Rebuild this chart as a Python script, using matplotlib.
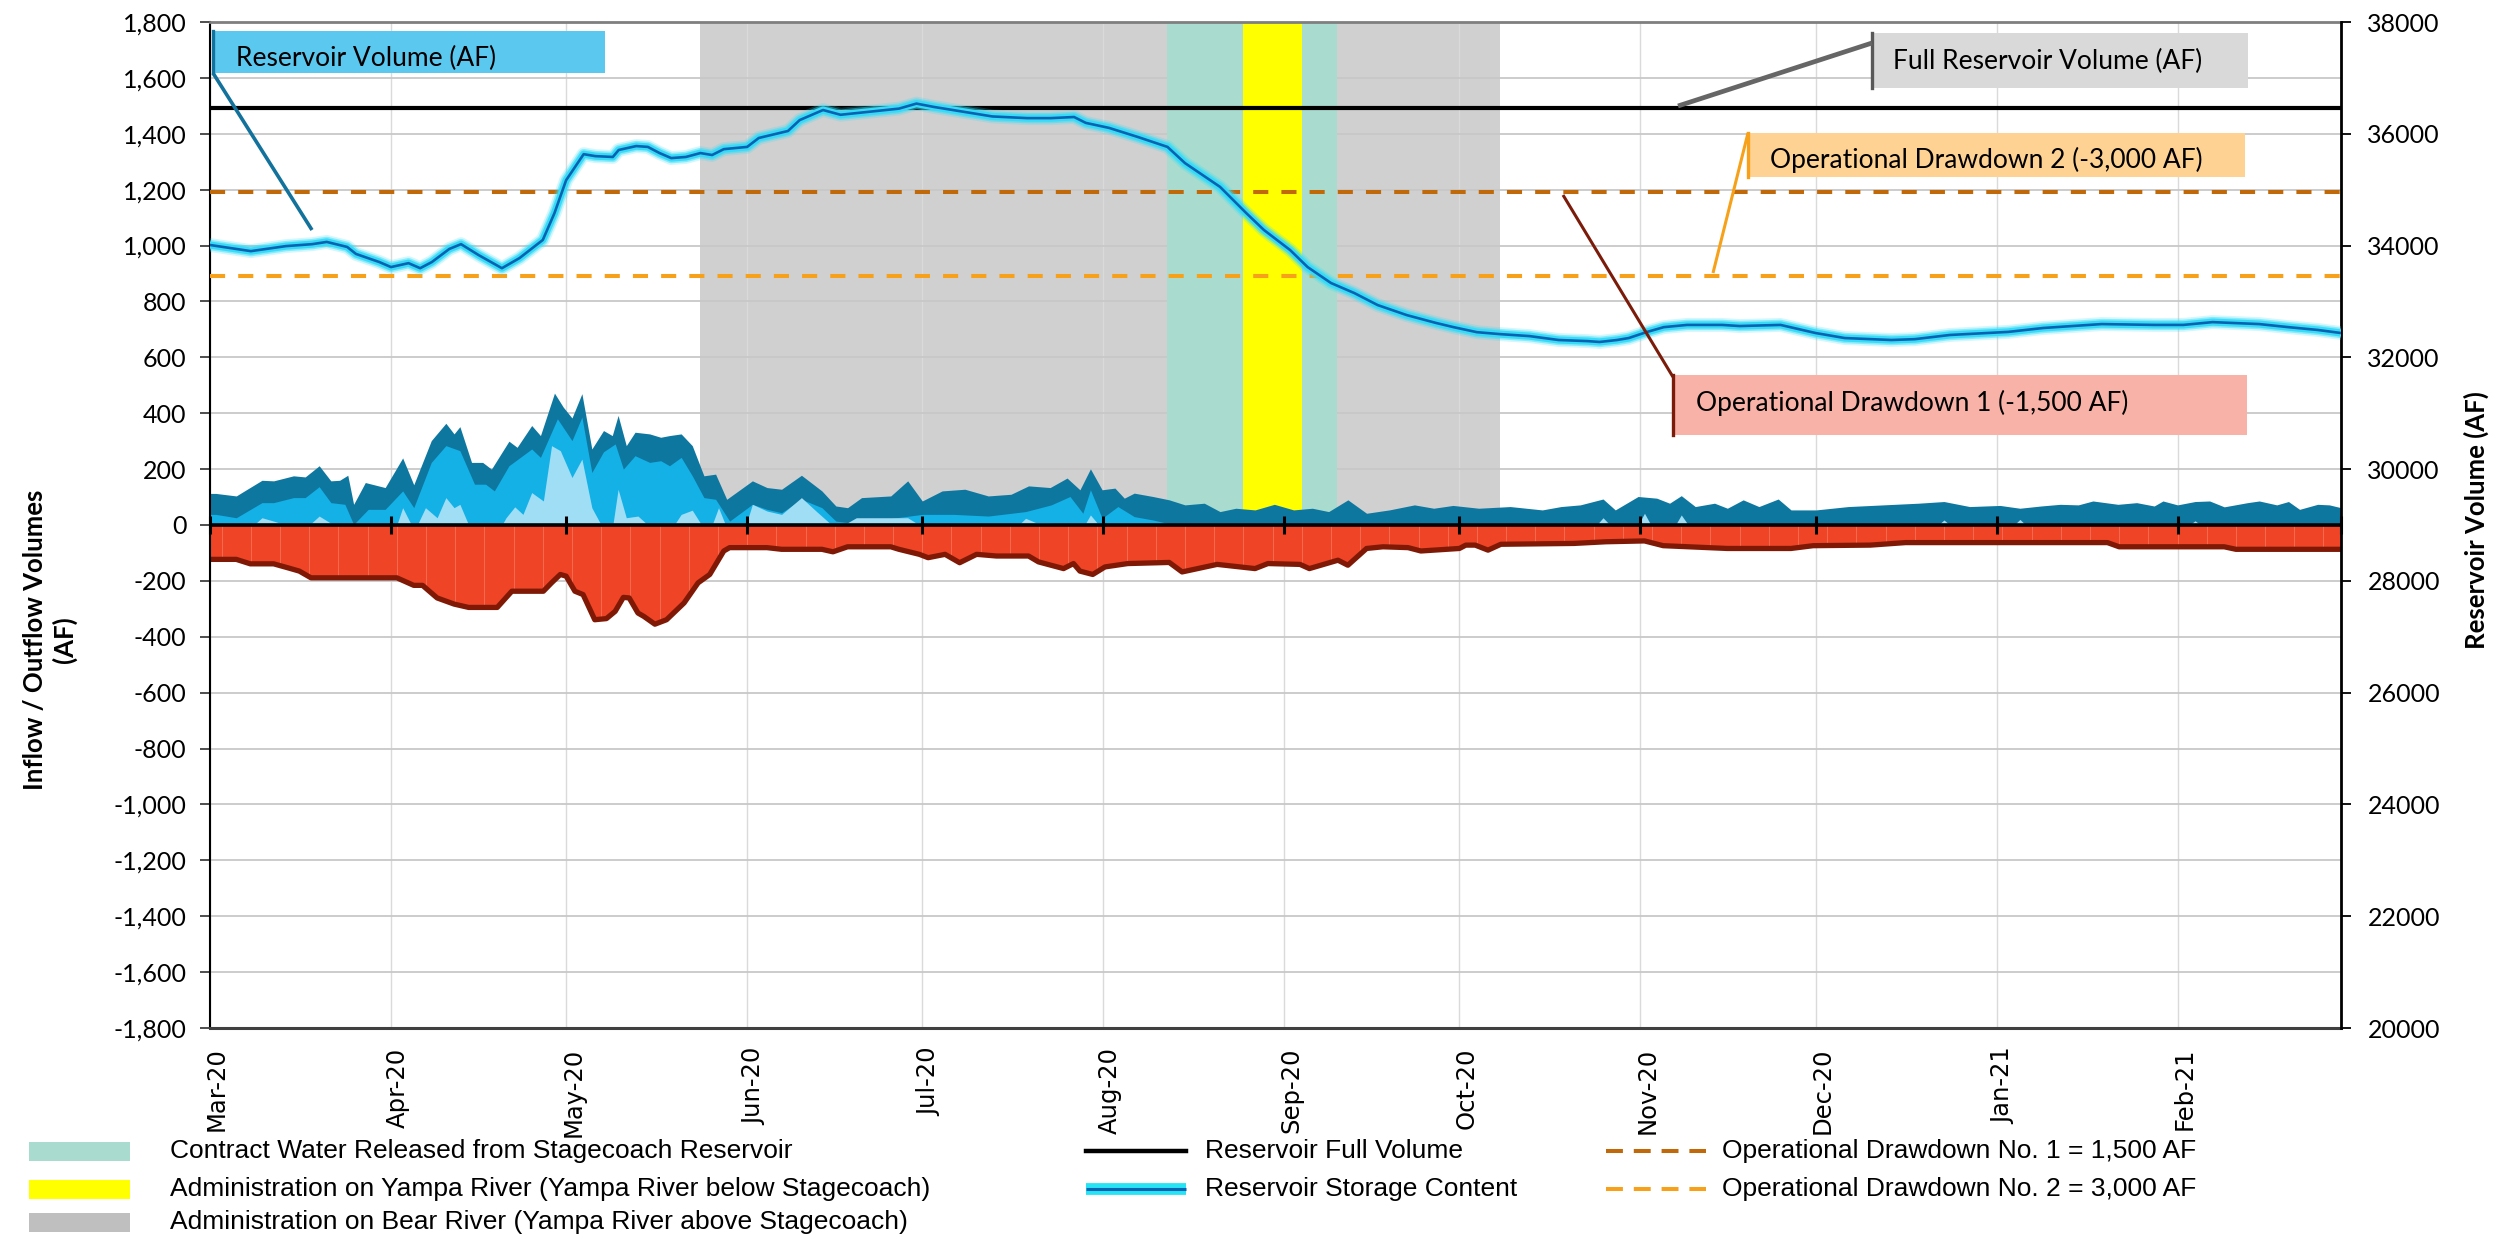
import datetime as dt

import numpy as np
import matplotlib
matplotlib.use("Agg")
import matplotlib.pyplot as plt
import matplotlib.dates as mdates
from matplotlib.patches import Rectangle
from matplotlib.lines import Line2D
from matplotlib.ticker import MultipleLocator, FuncFormatter, FixedLocator
from matplotlib.transforms import ScaledTranslation

# ---------------------------------------------------------------------------
# Data (days counted from 1 March 2020; acre-feet)
# ---------------------------------------------------------------------------
START = dt.datetime(2020, 3, 1)

# Reservoir storage content (AF, right axis)
storage = [
    (0, 34010), (7, 33900), (13, 33990), (17.5, 34025), (20, 34065), (23.5, 33975),
    (25, 33850), (29, 33705), (31, 33615), (34, 33685), (36, 33595), (38, 33705),
    (41, 33940), (43, 34025), (46, 33830), (50, 33595), (53, 33775), (57, 34100),
    (59, 34580), (61, 35170), (64, 35635), (66, 35600), (69, 35585), (70, 35710),
    (73, 35780), (75, 35765), (77, 35655), (79, 35565), (81.5, 35585), (84, 35655),
    (86, 35620), (88, 35725), (92, 35765), (94, 35925), (99, 36050), (101, 36245),
    (105, 36425), (108, 36340), (113, 36395), (118, 36450), (121, 36540), (124, 36480),
    (129, 36395), (134, 36310), (140, 36280), (144, 36280), (148, 36300), (150, 36195),
    (154, 36105), (159, 35940), (164, 35765), (167, 35475), (173, 35050), (177.5, 34580),
    (180.5, 34280), (185, 33920), (188, 33615), (192, 33330), (196, 33150), (200, 32935),
    (205, 32755), (210, 32615), (213, 32540), (217, 32450), (221, 32415), (226, 32380),
    (231, 32310), (236, 32290), (238, 32275), (241, 32310), (243, 32345), (246, 32450),
    (249, 32540), (253, 32580), (259, 32580), (262, 32560), (269, 32580), (275, 32435),
    (280, 32345), (288, 32310), (292, 32325), (298, 32400), (308, 32455), (314, 32525),
    (324, 32595), (333, 32580), (338, 32580), (343, 32630), (351, 32595), (356, 32540),
    (361, 32490), (365, 32435),
]

full_volume = 36460
drawdown_1 = 1500
drawdown_2 = 3000

# Inflow bands (cumulative tops, AF)
inflow_total = [
    (0, 113), (1.0, 113), (4.5, 104), (5.9, 122), (8.9, 160), (10.9, 158), (14.3, 176),
    (16.3, 172), (18.7, 212), (20.7, 158), (22.2, 160), (23.6, 178), (24.6, 74), (26.6, 152),
    (30.0, 134), (33.0, 240), (34.9, 144), (37.9, 302), (40.4, 364), (41.8, 326), (42.8, 352),
    (44.8, 224), (46.7, 224), (48.2, 200), (51.2, 300), (52.6, 278), (55.1, 356), (56.6, 320),
    (59.0, 472), (60.5, 422), (62.0, 383), (63.7, 470), (65.4, 272), (67.4, 338), (68.9, 320),
    (69.9, 392), (71.3, 284), (72.8, 332), (75.3, 326), (77.2, 314), (78.7, 320), (80.7, 326),
    (82.6, 284), (84.6, 176), (86.6, 182), (88.5, 92), (92.9, 158), (95.4, 134), (97.9, 128),
    (101.3, 178), (104.8, 122), (107.2, 68), (109.2, 62), (111.6, 98), (116.6, 104),
    (119.5, 158), (122.0, 86), (125.4, 122), (129.3, 128), (133.3, 104), (137.2, 110),
    (140.2, 140), (143.9, 134), (146.8, 168), (149.0, 126), (150.8, 201), (152.8, 126),
    (155.0, 132), (156.6, 96), (158.3, 114), (161.5, 102), (164.3, 90), (167.0, 72),
    (170.3, 78), (173.0, 48), (175.7, 60), (179.0, 54), (182.3, 74), (185.6, 54), (188.8, 60),
    (191.6, 48), (194.9, 90), (198.1, 42), (202.0, 54), (206.3, 72), (209.6, 60), (212.9, 70),
    (217.3, 60), (222.7, 66), (228.2, 54), (231.4, 66), (234.7, 72), (238.6, 93), (240.7, 54),
    (244.6, 102), (247.8, 96), (250.0, 78), (252.0, 105), (254.4, 66), (257.7, 78),
    (259.9, 60), (262.6, 90), (265.3, 66), (268.6, 93), (270.8, 54), (275.1, 54), (280.6, 66),
    (286.6, 72), (292.6, 78), (297.0, 84), (301.4, 66), (306.6, 70), (310, 60), (313.6, 68),
    (316.9, 74), (320, 72), (322.5, 86), (326.8, 74), (330, 80), (333, 68), (334.5, 86),
    (337, 72), (340, 84), (342.5, 86), (345, 65), (349, 80), (351, 86), (354, 72), (356, 84),
    (357.9, 56), (361, 74), (363, 72), (365, 62),
]

inflow_middle = [
    (0, 38), (1.0, 38), (4.5, 26), (8.9, 80), (10.9, 80), (14.3, 98), (16.3, 98), (18.7, 137),
    (20.7, 80), (23.1, 74), (24.6, 2), (27.1, 56), (30.0, 56), (33.0, 122), (34.9, 62),
    (37.9, 224), (40.4, 284), (42.8, 266), (45.3, 146), (47.2, 146), (48.7, 122), (51.2, 212),
    (55.1, 272), (56.6, 242), (59.5, 380), (62.0, 302), (63.7, 386), (65.4, 188), (67.4, 262),
    (69.4, 290), (70.8, 200), (72.8, 248), (75.3, 224), (77.2, 230), (78.7, 212), (80.7, 242),
    (82.6, 176), (84.6, 98), (86.6, 92), (89.0, 14), (92.9, 74), (95.4, 56), (97.9, 44),
    (101.3, 92), (104.8, 62), (107.2, 14), (110.7, 5), (117.6, 26), (122.0, 38), (127.4, 38),
    (133.3, 32), (139.7, 48), (144.1, 72), (147.3, 102), (149.5, 42), (150.8, 126),
    (152.8, 24), (155.5, 66), (158.3, 30), (161.5, 18), (164.8, 2), (167, 0), (365, 0),
]

inflow_lower = [
    (0, 0), (7.5, 0), (8.9, 26), (10.9, 14), (13.0, 0), (17.0, 0), (18.7, 32), (21.2, 0),
    (32.0, 0), (33.0, 62), (34.5, 0), (35.5, 0), (36.9, 62), (38.9, 26), (40.4, 98),
    (41.8, 62), (42.8, 74), (44.3, 0), (50.0, 0), (50.7, 26), (52.2, 65), (53.6, 38),
    (55.1, 116), (57.1, 86), (58.5, 284), (60.0, 266), (62.0, 170), (63.7, 236), (65.4, 62),
    (67.0, 0), (69.0, 0), (69.9, 128), (71.3, 26), (73.3, 32), (75.0, 0), (79.5, 0),
    (80.7, 38), (82.6, 53), (84.2, 0), (86.0, 0), (87.1, 62), (88.3, 0), (91.8, 0),
    (92.9, 74), (95.4, 50), (97.9, 38), (101.3, 98), (103.8, 50), (106.5, 0), (108.5, 0),
    (110.7, 26), (119.5, 26), (121.5, 0), (138.5, 0), (139.7, 24), (141.5, 8), (143, 8),
    (148, 0), (149.8, 0), (150.8, 36), (152, 6), (155, 0), (237.5, 0), (238.6, 26),
    (239.8, 0), (244.6, 0), (245.7, 42), (246.8, 0), (251, 0), (252.0, 36), (253.2, 0),
    (296, 0), (297, 18), (298, 0), (309, 0), (310, 20), (311, 0), (339, 0), (340, 15),
    (341, 0), (365, 0),
]

# Outflow (AF, plotted negative)
outflow = [
    (0, -123), (4.5, -123), (6.9, -139), (10.9, -139), (13.3, -153), (15.3, -165),
    (17.3, -189), (19.2, -189), (32.0, -189), (34.9, -216), (36.4, -216), (38.9, -261),
    (41.8, -283), (44.3, -295), (49.2, -295), (51.7, -237), (57.1, -237), (58.5, -207),
    (60.0, -177), (61.0, -183), (62.5, -237), (63.9, -249), (65.9, -339), (67.9, -335),
    (69.4, -309), (70.8, -259), (71.8, -261), (73.3, -315), (74.3, -327), (76.2, -355),
    (78.2, -339), (81.2, -279), (83.6, -207), (85.6, -177), (88.0, -93), (89.0, -81),
    (95.4, -81), (97.9, -87), (104.8, -87), (106.7, -96), (109.2, -78), (116.6, -78),
    (118.0, -87), (121.5, -105), (123.0, -117), (125.9, -105), (128.4, -135), (131.3, -105),
    (134.7, -111), (140.2, -111), (141.9, -132), (146.2, -156), (147.9, -138), (149.0, -165),
    (151.2, -177), (153.3, -150), (157.2, -138), (164.3, -134), (166.5, -168), (172.5, -141),
    (179.0, -156), (181.2, -138), (186.7, -141), (188.3, -156), (193.2, -126), (194.9, -144),
    (198.1, -84), (200.9, -78), (205.2, -81), (207.4, -93), (214.0, -84), (215.1, -72),
    (216.7, -72), (218.9, -90), (221.1, -69), (233.6, -66), (239.1, -60), (245.7, -57),
    (248.9, -74), (259.9, -84), (270.8, -84), (274.6, -74), (284.4, -72), (290.4, -63),
    (325, -63), (327, -78), (345, -78), (347, -87), (365, -87),
]

# Administration / release periods
admin_bear = ("2020-05-24", "2020-10-08")
contract_release = ("2020-08-12", "2020-09-10")
admin_yampa = ("2020-08-25", "2020-09-04")

# Month labels shown along the bottom
month_labels = ["Mar-20", "Apr-20", "May-20", "Jun-20", "Jul-20", "Aug-20", "Sep-20",
                "Oct-20", "Nov-20", "Dec-20", "Jan-21", "Feb-21"]

legend_patches = [
    "Contract Water Released from Stagecoach Reservoir",
    "Administration on Yampa River (Yampa River below Stagecoach)",
    "Administration on Bear River (Yampa River above Stagecoach)",
]
legend_lines = ["Reservoir Full Volume", "Reservoir Storage Content"]
legend_dashes = ["Operational Drawdown No. 1 = 1,500 AF",
                 "Operational Drawdown No. 2 = 3,000 AF"]

# ---------------------------------------------------------------------------
# Styling
# ---------------------------------------------------------------------------
C_GRAY_SPAN = "#d0d0d0"
C_TEAL = "#a9dccf"
C_YELLOW = "#ffff00"
C_DARK = "#0e77a0"
C_MID = "#14b1e7"
C_LIGHT = "#a0def6"
C_RED = "#ef4426"
C_RED_EDGE = "#7f1906"
C_GLOW = "#36dcf7"
C_CORE = "#0a63b2"
C_DD1 = "#c0690b"
C_DD2 = "#f7a11a"
DASH = (3.75, 3.25)

UI_FONT = ["Lato", "DejaVu Sans"]
LEG_FONT = ["Liberation Sans", "DejaVu Sans"]

W, H = 2511, 1239
fig = plt.figure(figsize=(W / 100, H / 100), dpi=100)


def fx(px):
    return px / W


def fy(py):
    return 1 - py / H


x_start = mdates.date2num(START)


def to_x(days):
    return x_start + np.asarray(days, dtype=float)


def unzip(pairs):
    arr = np.array(pairs, dtype=float)
    return to_x(arr[:, 0]), arr[:, 1]


ax = fig.add_axes([fx(210), fy(1028), fx(2341) - fx(210), fy(22) - fy(1028)])
ax2 = ax.twinx()

# --- shaded periods (upper half only) ---
d2n = mdates.datestr2num
ax.axvspan(d2n(admin_bear[0]), d2n(admin_bear[1]), ymin=0.5, ymax=1,
           color=C_GRAY_SPAN, lw=0, zorder=0.2)
ax.axvspan(d2n(contract_release[0]), d2n(contract_release[1]), ymin=0.5, ymax=1,
           color=C_TEAL, lw=0, zorder=0.8)
ax.axvspan(d2n(admin_yampa[0]), d2n(admin_yampa[1]), ymin=0.5, ymax=1,
           color=C_YELLOW, lw=0, zorder=0.9)

# --- grid ---
ax.set_axisbelow(True)
ax.yaxis.grid(True, color="#c8c8c8", lw=1.3)
ax.xaxis.grid(True, color="#dadada", lw=1.0)

# --- inflow bands ---
for pairs, col in [(inflow_total, C_DARK), (inflow_middle, C_MID), (inflow_lower, C_LIGHT)]:
    xx, yy = unzip(pairs)
    ax.fill_between(xx, 0, yy, color=col, lw=0, zorder=2)

# --- outflow ---
ox, oy = unzip(outflow)
poly = ax.fill_between(ox, 0, oy, color=C_RED, lw=0, zorder=2)
stripes = ax.vlines(to_x(np.arange(2, 365, 5)), -420, 0, colors="#f36b52",
                    lw=0.7, zorder=2.1)
stripes.set_clip_path(poly.get_paths()[0], ax.transData)
ax.plot(ox, oy, color=C_RED_EDGE, lw=3.8, solid_joinstyle="round", zorder=2.5)

# --- zero line with month markers ---
ax.axhline(0, color="black", lw=2.6, zorder=3)
month_edges = [mdates.date2num(dt.datetime(2020 + (2 + m) // 12, (2 + m) % 12 + 1, 1))
               for m in range(13)]
ax.plot(month_edges, np.zeros(len(month_edges)), ls="none", marker="|",
        ms=13, mew=2.2, color="black", zorder=3.5, clip_on=False)

# --- left axis ---
ax.set_ylim(-1800, 1800)
ax.yaxis.set_major_locator(MultipleLocator(200))
ax.yaxis.set_major_formatter(FuncFormatter(lambda v, p: f"{v:,.0f}"))
ax.tick_params(axis="y", which="major", direction="out", length=7, width=1.3,
               color="#404040", labelsize=18, pad=10, labelfontfamily="Lato")

# --- x axis ---
ax.set_xlim(x_start, x_start + 365)
ax.xaxis.set_major_locator(FixedLocator(month_edges[:len(month_labels)]))
ax.set_xticklabels(month_labels)
ax.tick_params(axis="x", length=0, labelsize=17.5, labelrotation=90, pad=14,
               labelfontfamily="DejaVu Sans")
shift = ScaledTranslation(0.07, 0, fig.dpi_scale_trans)
for lbl in ax.get_xticklabels():
    lbl.set_transform(lbl.get_transform() + shift)

ax.spines["right"].set_visible(False)
ax.spines["left"].set_color("black")
ax.spines["left"].set_linewidth(1.5)
ax.spines["top"].set_color("#7f7f7f")
ax.spines["top"].set_linewidth(2)
ax.spines["bottom"].set_color("#404040")
ax.spines["bottom"].set_linewidth(2.2)

# --- right axis: storage ---
sx, sy = unzip(storage)
for lw, alpha in [(10, 0.22), (7.5, 0.45), (5.2, 1.0)]:
    ax2.plot(sx, sy, color=C_GLOW, lw=lw, alpha=alpha, solid_capstyle="round",
             solid_joinstyle="round", zorder=3)
ax2.plot(sx, sy, color=C_CORE, lw=1.9, solid_joinstyle="round", zorder=4)

ax2.axhline(full_volume, color="black", lw=3, zorder=2)
ax2.axhline(full_volume - drawdown_1, color=C_DD1, lw=2.9, dashes=DASH, zorder=2)
ax2.axhline(full_volume - drawdown_2, color=C_DD2, lw=2.9, dashes=DASH, zorder=2)

ax2.set_ylim(20000, 38000)
ax2.yaxis.set_major_locator(MultipleLocator(2000))
ax2.yaxis.set_major_formatter(FuncFormatter(lambda v, p: f"{v:.0f}"))
ax2.tick_params(axis="y", direction="out", length=7, width=1.3, color="black",
                labelsize=18, pad=12, labelfontfamily="Lato")
for side in ("left", "top", "bottom"):
    ax2.spines[side].set_visible(False)
ax2.spines["right"].set_color("black")
ax2.spines["right"].set_linewidth(2)

# --- axis titles ---
fig.text(fx(50), fy(640), "Inflow / Outflow Volumes\n(AF)", rotation=90,
         ha="center", va="center", fontsize=18.5, fontweight="bold",
         family=UI_FONT, multialignment="center", linespacing=1.25)
fig.text(fx(2476), fy(520), "Reservoir Volume (AF)", rotation=90,
         ha="center", va="center", fontsize=18.5, fontweight="bold", family=UI_FONT)


# --- callouts ---
def callout(box, text, fill, accent, leader, text_pos, leader_col, leader_lw):
    x0, y0, x1, y1 = box
    fig.add_artist(Rectangle((fx(x0), fy(y1)), fx(x1) - fx(x0), fy(y0) - fy(y1),
                             transform=fig.transFigure, facecolor=fill,
                             edgecolor="none", zorder=5))
    fig.add_artist(Line2D([fx(x0), fx(x0)], [fy(y0), fy(y1)], transform=fig.transFigure,
                          color=accent, lw=2.4, zorder=6))
    (ax_, ay_), (bx_, by_) = leader
    fig.add_artist(Line2D([fx(ax_), fx(bx_)], [fy(ay_), fy(by_)],
                          transform=fig.transFigure, color=leader_col, lw=leader_lw,
                          solid_capstyle="butt", zorder=6))
    fig.text(fx(text_pos[0]), fy(text_pos[1]), text, ha="left", va="center",
             fontsize=19, family=UI_FONT, color="black", zorder=7)


callout((213, 31, 605, 73), "Reservoir Volume (AF)", "#5bc8f0", "#13729c",
        ((213, 73), (312, 230)), (236, 58), "#13729c", 2.6)
callout((1872, 33, 2248, 88), "Full Reservoir Volume (AF)", "#d9d9d9", "#595959",
        ((1872, 43), (1678, 106)), (1893, 61), "#666666", 3.4)
callout((1748, 133, 2245, 177), "Operational Drawdown 2 (-3,000 AF)", "#fdd293", C_DD2,
        ((1748, 133), (1713, 273)), (1770, 160), C_DD2, 2.2)
callout((1673, 375, 2247, 435), "Operational Drawdown 1 (-1,500 AF)", "#f8b2a8", "#7b1c0a",
        ((1673, 377), (1563, 195)), (1696, 403), "#7b1c0a", 2.2)

# --- legend ---
patch_cols = [C_TEAL, C_YELLOW, "#bfbfbf"]
rows = [1151, 1189, 1222]
for label, col, yy in zip(legend_patches, patch_cols, rows):
    fig.add_artist(Rectangle((fx(29), fy(yy + 9.5)), fx(130) - fx(29), fy(yy - 9.5) - fy(yy + 9.5),
                             transform=fig.transFigure, facecolor=col, edgecolor="none"))
    fig.text(fx(170), fy(yy), label, ha="left", va="center", fontsize=19, family=LEG_FONT)

# full volume / storage content keys
fig.add_artist(Line2D([fx(1086), fx(1186)], [fy(rows[0])] * 2, transform=fig.transFigure,
                      color="black", lw=3.2))
fig.add_artist(Line2D([fx(1086), fx(1186)], [fy(rows[1])] * 2, transform=fig.transFigure,
                      color="#27e4f4", lw=8.5, solid_capstyle="butt"))
fig.add_artist(Line2D([fx(1086), fx(1186)], [fy(rows[1])] * 2, transform=fig.transFigure,
                      color=C_CORE, lw=2.2, solid_capstyle="butt"))
for label, yy in zip(legend_lines, rows[:2]):
    fig.text(fx(1205), fy(yy), label, ha="left", va="center", fontsize=19, family=LEG_FONT)

for label, col, yy in zip(legend_dashes, [C_DD1, C_DD2], rows[:2]):
    fig.add_artist(Line2D([fx(1606), fx(1706)], [fy(yy)] * 2, transform=fig.transFigure,
                          color=col, lw=2.9, dashes=(4.2, 2.7)))
    fig.text(fx(1722), fy(yy), label, ha="left", va="center", fontsize=19, family=LEG_FONT)

fig.savefig("out.png", dpi=100)
